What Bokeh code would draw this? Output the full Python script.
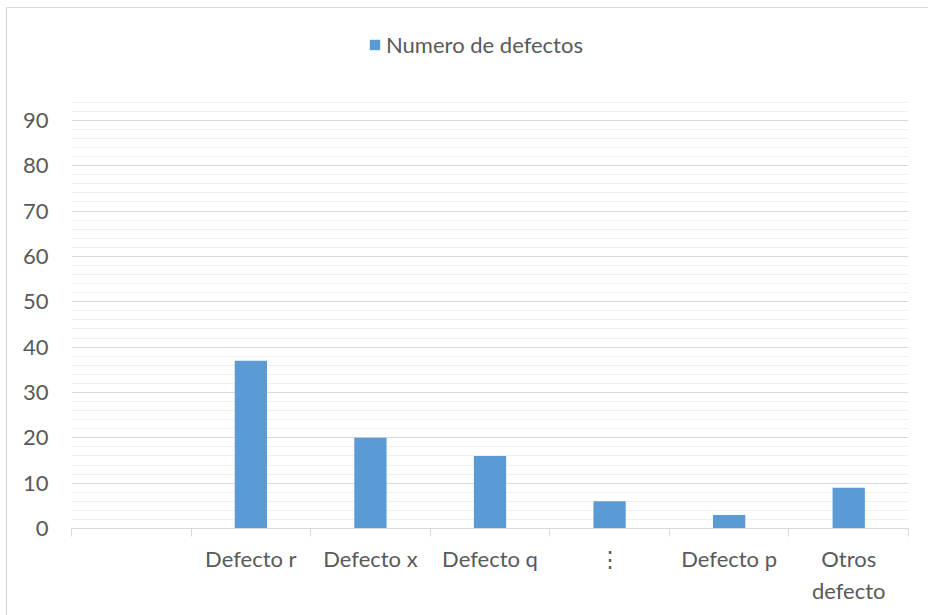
from bokeh.plotting import figure
from bokeh.models import (Range1d, FixedTicker, SingleIntervalTicker, Legend, LegendItem,
                          ColumnDataSource)
from bokeh.embed import file_html
from bokeh.resources import INLINE

categories = ["", "Defecto r", "Defecto x", "Defecto q", "\u22ee", "Defecto p", "Otros defecto"]
tick_labels = ["", "Defecto r", "Defecto x", "Defecto q", "\u22ee", "Defecto p", "Otros\ndefecto"]
values = [0, 37, 20, 16, 6, 3, 9]
series_name = "Numero de defectos"
y_axis_max = 94

FONT = "Lato"
TXT = "#595959"

n = len(categories)
xs = [i + 0.5 for i in range(n)]

p = figure(width=928, height=615, output_backend="svg", toolbar_location=None,
           x_range=Range1d(0, n), y_range=Range1d(0, 112),
           min_border_left=71, min_border_right=20, min_border_top=20, min_border_bottom=87)
p.outline_line_color = None
p.background_fill_color = "white"
p.border_fill_alpha = 0
p.styles = {"background": "white",
            "box-shadow": "inset 6px 7px 0 0 white, inset 7px 8px 0 0 #d9d9d9"}

src = ColumnDataSource(dict(x=xs, top=values, cat=categories))
r = p.vbar(x="x", top="top", width=0.27, bottom=0, source=src,
           fill_color="#5B9BD5", line_color=None)

# y axis
p.yaxis.ticker = SingleIntervalTicker(interval=10, num_minor_ticks=5)
p.yaxis.bounds = (0, y_axis_max)
p.yaxis.axis_line_color = None
p.yaxis.major_tick_line_color = None
p.yaxis.minor_tick_line_color = None
p.yaxis.major_label_text_font = FONT
p.yaxis.major_label_text_font_size = "22px"
p.yaxis.major_label_text_color = TXT
p.yaxis.major_label_standoff = 17

p.ygrid.bounds = (0, y_axis_max)
p.ygrid.grid_line_color = "#d9d9d9"
p.ygrid.minor_grid_line_color = "#efefef"
p.xgrid.grid_line_color = None

# x axis: boundary ticks as minor ticks, labels at centers
p.xaxis.ticker = FixedTicker(ticks=xs, minor_ticks=list(range(n + 1)))
p.xaxis.major_label_overrides = {x: lab for x, lab in zip(xs, tick_labels)}
p.xaxis.axis_line_color = "#d9d9d9"
p.xaxis.major_tick_line_color = None
p.xaxis.major_tick_out = 0
p.xaxis.minor_tick_line_color = "#d9d9d9"
p.xaxis.minor_tick_out = 8
p.xaxis.minor_tick_in = 0
p.xaxis.major_label_text_font = FONT
p.xaxis.major_label_text_font_size = "22px"
p.xaxis.major_label_text_color = TXT
p.xaxis.major_label_standoff = 8

legend = Legend(items=[LegendItem(label=series_name, renderers=[r])],
                location=(297, 470), orientation="horizontal",
                glyph_width=13, glyph_height=13, label_standoff=5,
                padding=0, margin=0, border_line_color=None, background_fill_alpha=0,
                label_text_font=FONT, label_text_font_size="22px", label_text_color=TXT)
p.add_layout(legend, "center")

open("out.html", "w").write(file_html(p, INLINE))
